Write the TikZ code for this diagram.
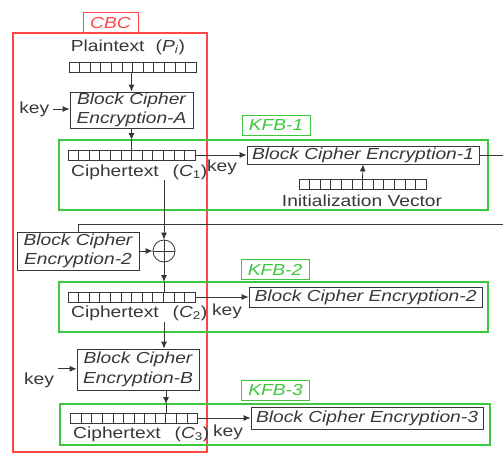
\documentclass[tikz,border=0pt]{standalone}
\usepackage{fontspec}
\setmainfont{Liberation Sans}[FakeStretch=1.2]
\usetikzlibrary{arrows.meta}

\definecolor{cbcred}{RGB}{255,70,70}
\definecolor{kfbgreen}{RGB}{60,200,60}
\definecolor{ink}{RGB}{55,55,55}

% 12-cell register: name, x, y
\newcommand{\bitreg}[3]{%
  \node[reg] (#1) at (#2,#3) {};
  \foreach \k in {1,...,11}
    \draw[cell] ([xshift=\k*127pt/12]#1.south west) -- ([xshift=\k*127pt/12]#1.north west);
}

\begin{document}
\begin{tikzpicture}[x=1pt,y=-1pt,line width=.8pt,
  font=\fontsize{16}{18}\selectfont,text=ink,
  blk/.style={draw=ink,font=\fontsize{16}{19.5}\selectfont\itshape,align=center,inner sep=0pt},
  reg/.style={draw=ink,minimum width=127pt,minimum height=10pt,inner sep=0pt,outer sep=0pt},
  cell/.style={ink,line width=.6pt},
  frame/.style={draw=#1,line width=1.5pt,inner sep=0pt,outer sep=0pt},
  tag/.style={draw=#1,text=#1,line width=1pt,font=\fontsize{16}{18}\selectfont\itshape,minimum width=68pt,minimum height=20pt,inner sep=0pt},
  flow/.style={ink,-{Latex[length=7pt,width=6pt]}},
  wire/.style={ink}]
\useasboundingbox (0,0) rectangle (503,453);

\node[frame=cbcred,minimum width=194pt,minimum height=419pt] (cbc) at (110,242.5) {};
\node[tag=cbcred,minimum width=55pt,minimum height=21pt] (cbctag) at (110.5,22.5) {CBC};
\node[frame=kfbgreen,minimum width=429pt,minimum height=70pt] (kfb1) at (273.5,175) {};
\node[tag=kfbgreen] (kfb1tag) at (276,125) {KFB-1};
\node[frame=kfbgreen,minimum width=429pt,minimum height=50pt] (kfb2) at (273.5,307) {};
\node[tag=kfbgreen] (kfb2tag) at (275,269.5) {KFB-2};
\node[frame=kfbgreen,minimum width=430pt,minimum height=41pt] (kfb3) at (275,424.5) {};
\node[tag=kfbgreen] (kfb3tag) at (275.5,390) {KFB-3};

\node (ptxt) at (128,47) {Plaintext\hspace{.7em}(\textit{P}\textsubscript{\textit{i}})};
\bitreg{preg}{132.5}{67}
\node[blk,minimum width=123pt,minimum height=36pt] (encA) at (131.5,110) {Block Cipher\\Encryption-A};
\node[anchor=east] (keyA) at (53,109) {key};
\draw[flow] (keyA.east) -- (encA.west |- keyA.east);
\draw[flow] (preg.south -| encA.north) -- (encA.north);

\bitreg{c1reg}{131.5}{155}
\draw[flow] (encA.south) -- (encA.south |- kfb1.north);
\draw[wire] (encA.south |- kfb1.north) -- (encA.south |- c1reg.north);
\node (c1txt) at (115,172) {Ciphertext};
\node (c1sym) at (190,172) {(\textit{C}\textsubscript{1})};
\coordinate (c1out) at (164,180);
\node[blk,minimum width=232pt,minimum height=18pt] (enc1) at (363,155) {Block Cipher Encryption-1};
\node (key1) at (222,167) {key};
\draw[flow] (c1reg.east) -- (enc1.west);
\coordinate (out1) at (503,155);
\draw[wire] (enc1.east) -- (out1);
\bitreg{ivreg}{362.5}{184}
\node (ivtxt) at (362,201) {Initialization Vector};
\draw[flow] (ivreg.north) -- (enc1.south);

\coordinate (fb) at (503,224);
\node[blk,minimum width=122pt,minimum height=38pt] (enc2) at (78,251) {Block Cipher\\Encryption-2};
\draw[wire] (fb) -| (enc2.north);
\node[circle,draw=ink,minimum size=22pt,inner sep=0pt] (xor) at (164,251) {};
\draw[wire] (xor.north) -- (xor.south) (xor.west) -- (xor.east);
\draw[flow] (enc2.east) -- (xor.west);
\draw[flow] (c1out) -- (xor.north);

\bitreg{c2reg}{131.5}{297}
\draw[flow] (xor.south) -- (xor.south |- kfb2.north);
\draw[wire] (xor.south |- kfb2.north) -- (xor.south |- c2reg.north);
\node (c2txt) at (115,313) {Ciphertext};
\node (c2sym) at (190,313) {(\textit{C}\textsubscript{2})};
\coordinate (c2out) at (164,322);
\node[blk,minimum width=233pt,minimum height=20pt] (enc2r) at (365.5,297) {Block Cipher Encryption-2};
\node (key2) at (227,311) {key};
\draw[flow] (c2reg.east) -- (enc2r.west);

\node[blk,minimum width=122pt,minimum height=41pt] (encB) at (138,369.5) {Block Cipher\\Encryption-B};
\draw[flow] (c2out) -- (c2out |- encB.north);
\node (keyB) at (39,380) {key};
\draw[flow] (keyB.north east) -- (encB.west |- keyB.north east);

\bitreg{c3reg}{134}{418}
\draw[flow] ([xshift=28pt]encB.south) -- ([xshift=28pt]encB.south |- kfb3.north);
\draw[wire] ([xshift=28pt]encB.south |- kfb3.north) -- ([xshift=28pt]encB.south |- c3reg.north);
\node (c3txt) at (117,434) {Ciphertext};
\node (c3sym) at (192,434) {(\textit{C}\textsubscript{3})};
\node[blk,minimum width=232pt,minimum height=22pt] (enc3) at (367,418) {Block Cipher Encryption-3};
\node (key3) at (228,432) {key};
\draw[flow] (c3reg.east) -- (enc3.west);
\end{tikzpicture}
\end{document}
